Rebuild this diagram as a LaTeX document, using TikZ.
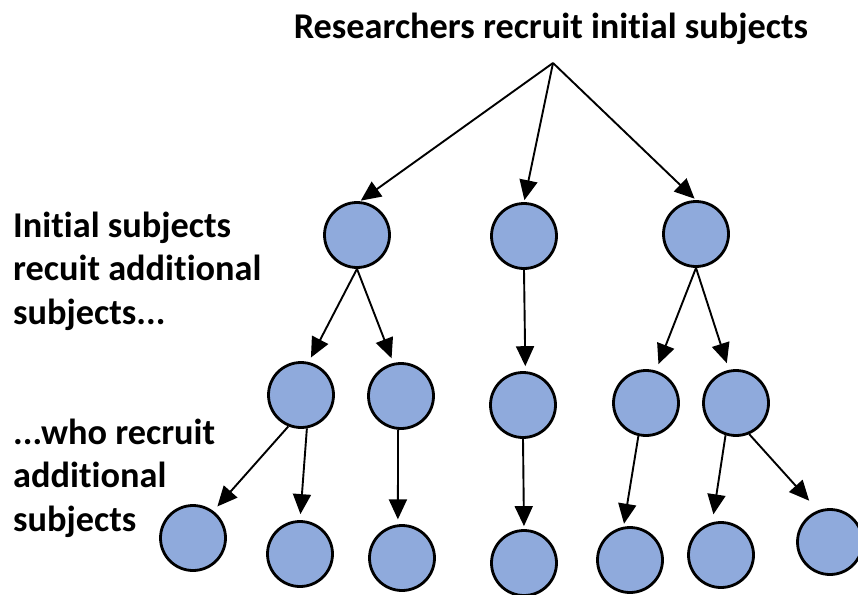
\documentclass[tikz,border=0pt]{standalone}
\usepackage{fontspec}
\setmainfont{Carlito}[Ligatures=NoCommon]
\usetikzlibrary{arrows.meta}
\definecolor{subjblue}{HTML}{8FAADC}
\tikzset{
  subject/.style = {circle, draw=black, line width=2.8pt, fill=subjblue, minimum size=65pt, inner sep=0pt},
  recruits/.style = {-{Triangle[length=20pt, width=18pt]}, line width=1.9pt, shorten >=5pt},
  caption/.style = {font=\bfseries\fontsize{36.3}{43.5}\selectfont, align=left, inner sep=0pt}
}

\begin{document}
\begin{tikzpicture}[x=1pt, y=-1pt]
  \useasboundingbox (0,0) rectangle (858,594);
  \node [caption, anchor=base] (title) at (551,39) {Researchers recruit initial subjects};
  \coordinate (root) at (553,63);
  % base of a multi-line caption is its last line
  \node [caption, anchor=base west] (wave1) at (13,324) {Initial subjects\\recuit additional\\subjects...};
  \node [caption, anchor=base west] (wave2) at (13,531) {...who recruit\\additional\\subjects};
  % first wave
  \node [subject] (a) at (357,235) {};
  \node [subject] (b) at (524,236) {};
  \node [subject] (c) at (696,234) {};
  % second wave
  \node [subject] (d) at (301,395) {};
  \node [subject] (e) at (401,396) {};
  \node [subject] (f) at (523,405) {};
  \node [subject] (g) at (646,403) {};
  \node [subject] (h) at (736,403) {};
  % third wave
  \node [subject] (i) at (193,538) {};
  \node [subject] (j) at (300,554) {};
  \node [subject] (k) at (402,558) {};
  \node [subject] (l) at (524,563) {};
  \node [subject] (m) at (630,560) {};
  \node [subject] (n) at (721,555) {};
  \node [subject] (o) at (830,542) {};
  \draw [recruits, shorten >=1pt] (root) -- (a.85);
  \draw [recruits, shorten >=2pt] (root) -- (b.north);
  \draw [recruits, shorten >=2pt] (root) -- (c.north);
  \draw [recruits] (a.south) -- (d.77);
  \draw [recruits] (a.south) -- (e.103);
  \draw [recruits] (b.south) -- (f.86);
  \draw [recruits, shorten >=7pt] (c.south) -- (g.73);
  \draw [recruits, shorten >=7pt] (c.south) -- (h.102);
  \draw [recruits, shorten >=6pt] (d.-112) -- (i.53);
  \draw [recruits, shorten >=6pt] (d.-80) -- (j.north);
  \draw [recruits] (e.-95) -- (k.97);
  \draw [recruits, shorten >=3pt] (f.south) -- (l.north);
  \draw [recruits, shorten >=3pt] (g.-103) -- (m.101);
  \draw [recruits, shorten >=8pt] (h.-108) -- (n.105);
  \draw [recruits, shorten >=13pt] (h.-67) -- (o.111);
\end{tikzpicture}
\end{document}
